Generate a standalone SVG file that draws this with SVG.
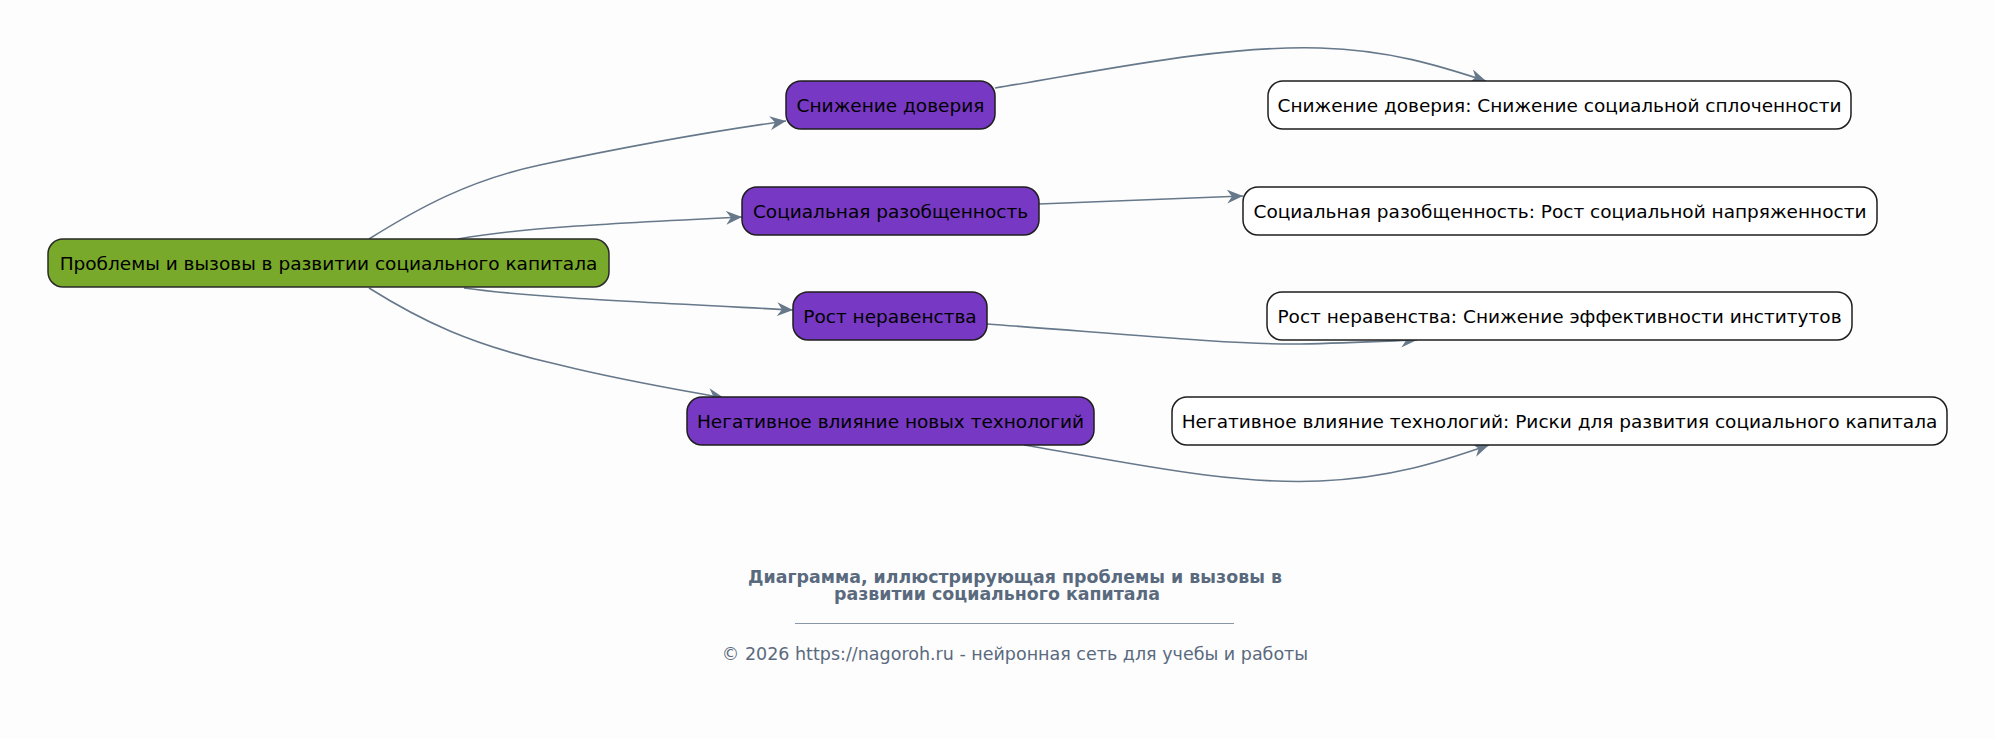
<svg xmlns="http://www.w3.org/2000/svg" width="1995" height="739" viewBox="0 0 1995 739">
<style>
.bg{fill:#fdfdfd}
.node text{font-family:"DejaVu Sans",sans-serif;font-size:18.5px;fill:#000;text-anchor:middle}
.root rect{fill:#78a92b;stroke:#2a2a2a;stroke-width:1.5}
.mid rect{fill:#7738c3;stroke:#1e1e1e;stroke-width:1.5}
.leaf rect{fill:#ffffff;stroke:#1e1e1e;stroke-width:1.5}
.edges path{fill:none;stroke:#66788a;stroke-width:1.6}
.title{font-family:"DejaVu Sans",sans-serif;font-size:17.4px;font-weight:bold;fill:#5a6a7e;text-anchor:middle}
.copy{font-family:"DejaVu Sans",sans-serif;font-size:17.5px;fill:#5a6a7e;text-anchor:middle}
</style>
<defs>
<marker id="arr" markerWidth="18" markerHeight="14" refX="16" refY="7" orient="auto" markerUnits="userSpaceOnUse">
<path d="M0,0 L16,7 L0,14 L5,7 z" fill="#66788a"/>
</marker>
</defs>
<rect class="bg" x="0" y="0" width="1995" height="739"/>
<g class="edges">
<path marker-end="url(#arr)" d="M369,239 C420,207 470,180 540,165 C620,148 700,133 786,121"/>
<path marker-end="url(#arr)" d="M458,239 C520,228 600,224 742,217"/>
<path marker-end="url(#arr)" d="M464,288 C530,297 620,301 793,310"/>
<path marker-end="url(#arr)" d="M369,288 C420,320 470,345 560,365 C620,380 680,390 724,398"/>
<path marker-end="url(#arr)" d="M995,88 C1100,71 1220,45 1320,48 C1390,50 1440,66 1486,81"/>
<path marker-end="url(#arr)" d="M1039,204 L1243,196"/>
<path marker-end="url(#arr)" d="M987,324 C1100,332 1230,345 1300,344 C1350,343 1390,341 1417,340"/>
<path marker-end="url(#arr)" d="M1024,445 C1130,463 1230,485 1320,481 C1390,478 1440,462 1489,445"/>
</g>
<g id="root" class="node root"><rect x="48" y="239" width="561" height="48" rx="15"/><text x="328.5" y="269.5">Проблемы и вызовы в развитии социального капитала</text></g>
<g id="m1" class="node mid"><rect x="786" y="81" width="209" height="48" rx="15"/><text x="890.5" y="111.5">Снижение доверия</text></g>
<g id="m2" class="node mid"><rect x="742" y="187" width="297" height="48" rx="15"/><text x="890.5" y="217.5">Социальная разобщенность</text></g>
<g id="m3" class="node mid"><rect x="793" y="292" width="194" height="48" rx="15"/><text x="890" y="322.5">Рост неравенства</text></g>
<g id="m4" class="node mid"><rect x="687" y="397" width="407" height="48" rx="15"/><text x="890.5" y="427.5">Негативное влияние новых технологий</text></g>
<g id="l1" class="node leaf"><rect x="1268" y="81" width="583" height="48" rx="15"/><text x="1559.5" y="111.5">Снижение доверия: Снижение социальной сплоченности</text></g>
<g id="l2" class="node leaf"><rect x="1243" y="187" width="634" height="48" rx="15"/><text x="1560" y="217.5">Социальная разобщенность: Рост социальной напряженности</text></g>
<g id="l3" class="node leaf"><rect x="1267" y="292" width="585" height="48" rx="15"/><text x="1559.5" y="322.5">Рост неравенства: Снижение эффективности институтов</text></g>
<g id="l4" class="node leaf"><rect x="1172" y="397" width="775" height="48" rx="15"/><text x="1559.5" y="427.5">Негативное влияние технологий: Риски для развития социального капитала</text></g>
<g id="footer">
<text class="title" x="1015" y="583">Диаграмма, иллюстрирующая проблемы и вызовы в</text>
<text class="title" x="997" y="600">развитии социального капитала</text>
<line x1="795" y1="623.5" x2="1234" y2="623.5" stroke="#8a97a6" stroke-width="1"/>
<text class="copy" x="1015" y="660">© 2026 https://nagoroh.ru - нейронная сеть для учебы и работы</text>
</g>
</svg>
